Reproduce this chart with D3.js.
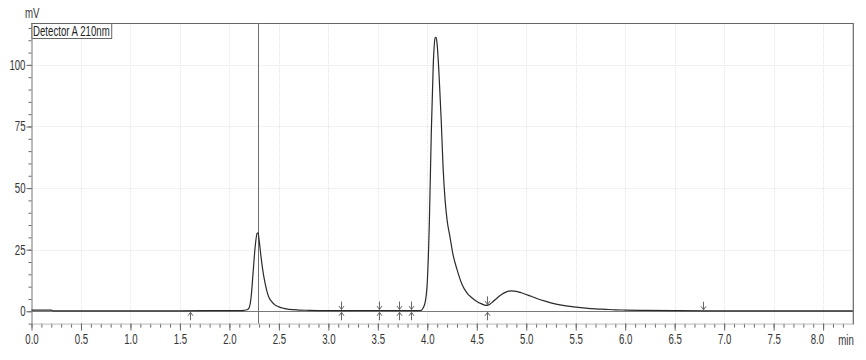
<!DOCTYPE html>
<html><head><meta charset="utf-8">
<script src="https://cdn.jsdelivr.net/npm/d3@7"></script>
<style>
html,body{margin:0;padding:0;background:#fff;}
svg text{font-family:"Liberation Sans Narrow","Liberation Sans",Arial,sans-serif;}
</style></head>
<body><svg id="c" width="866" height="360"></svg>
<script>
// ---- data ----
const timeMin = [0.00,0.20,0.22,0.50,1.00,1.50,2.00,2.10,2.15,2.18,2.20,2.22,2.24,2.26,2.28,2.29,2.30,2.32,2.34,2.36,2.38,2.40,2.43,2.46,2.50,2.55,2.60,2.70,2.80,3.00,3.50,3.90,3.94,3.96,3.98,4.00,4.02,4.04,4.06,4.08,4.09,4.10,4.12,4.14,4.16,4.18,4.20,4.23,4.26,4.30,4.35,4.40,4.45,4.50,4.55,4.59,4.62,4.66,4.70,4.75,4.80,4.85,4.90,4.95,5.00,5.05,5.10,5.20,5.30,5.40,5.50,5.60,5.70,5.80,5.90,6.00,6.20,6.50,6.80,7.50,8.30];
const signalMV = [0.5,0.5,0.2,0.2,0.2,0.2,0.3,0.3,0.4,0.6,1.5,6,16,26,31.6,31.8,29,22,16,11.5,8,5.6,3.8,2.6,1.8,1.2,0.8,0.5,0.4,0.3,0.3,0.3,0.4,1.5,4,12,35,72,100,111,111.2,108,95,78,58,45,37,30,23,17,11,7.5,5.5,4,3,2.4,2.6,3.8,5.2,6.8,7.9,8.3,8.1,7.5,6.8,6.1,5.3,4.0,2.9,2.2,1.7,1.3,1.0,0.8,0.6,0.5,0.35,0.25,0.2,0.2,0.2];
const upArrowTimes = [1.60,3.13,3.51,3.71,3.84,4.60];
const downArrowTimes = [3.13,3.51,3.71,3.84,4.60,6.79];
const downArrowLevels = [0.3,0.3,0.3,0.3,2.4,0.2];
const cursorTime = 2.285;
const xMajorTicks = [0,0.5,1,1.5,2,2.5,3,3.5,4,4.5,5,5.5,6,6.5,7,7.5,8];
const xTickLabels = ["0.0","0.5","1.0","1.5","2.0","2.5","3.0","3.5","4.0","4.5","5.0","5.5","6.0","6.5","7.0","7.5","8.0"];
const yMajorTicks = [0,25,50,75,100];
const yTickLabels = ["0","25","50","75","100"];
const legendText = "Detector A 210nm";
const yUnit = "mV", xUnit = "min";

// ---- drawing ----
const FS = 14, SX = 0.69;   // tall, condensed lettering
const svg = d3.select("#c");
const x = d3.scaleLinear().domain([0, 8.3]).range([31.5, 852.8]);
const y = d3.scaleLinear().domain([-5, 117]).range([323.6, 23]);
const L = x.range()[0], R = x.range()[1], T = y.range()[1], B = y.range()[0];

// grid (faint dotted)
const grid = svg.append("g").attr("stroke", "#e4e4e4").attr("stroke-width", 1).attr("stroke-dasharray", "1,1");
grid.selectAll("line.v").data(xMajorTicks.filter(d => d > 0)).join("line")
  .attr("x1", d => Math.round(x(d)) + 0.5).attr("x2", d => Math.round(x(d)) + 0.5).attr("y1", T).attr("y2", B);
grid.selectAll("line.h").data(yMajorTicks.filter(d => d > 0)).join("line")
  .attr("x1", L).attr("x2", R).attr("y1", d => Math.round(y(d)) + 0.5).attr("y2", d => Math.round(y(d)) + 0.5);

// zero line
svg.append("line").attr("x1", L).attr("x2", R)
  .attr("y1", Math.round(y(0)) + 0.5).attr("y2", Math.round(y(0)) + 0.5)
  .attr("stroke", "#7a7a7a").attr("stroke-width", 1);

// minor ticks
const minorX = d3.range(0, 83).map(i => i / 10);
const minorY = d3.range(-5, 116, 5);
svg.append("g").attr("transform", `translate(0,${B})`)
  .call(d3.axisBottom(x).tickValues(minorX).tickSize(4).tickFormat(""))
  .call(g => g.select(".domain").remove())
  .call(g => g.selectAll("line").attr("stroke", "#666"));
svg.append("g").attr("transform", `translate(${L},0)`)
  .call(d3.axisLeft(y).tickValues(minorY).tickSize(3).tickFormat(""))
  .call(g => g.select(".domain").remove())
  .call(g => g.selectAll("line").attr("stroke", "#666"));

// major x axis
const xAxis = svg.append("g").attr("transform", `translate(0,${B})`)
  .call(d3.axisBottom(x).tickValues(xMajorTicks).tickSize(7).tickPadding(3)
    .tickFormat((d, i) => xTickLabels[i]));
xAxis.select(".domain").attr("stroke", "#bbb").attr("d", `M${L},0.5H${R}`);
xAxis.selectAll("line").attr("stroke", "#666");
xAxis.selectAll("text").attr("font-size", FS).attr("fill", "#333")
  .attr("transform", `scale(${SX},1)`);
xAxis.selectAll(".tick").filter((d, i) => i === xMajorTicks.length - 1).select("text").attr("dx", -9);

// major y axis
const yAxis = svg.append("g").attr("transform", `translate(${L},0)`)
  .call(d3.axisLeft(y).tickValues(yMajorTicks).tickSize(5).tickPadding(2)
    .tickFormat((d, i) => yTickLabels[i]));
yAxis.select(".domain").attr("stroke", "#777").attr("d", `M0.5,${B}V${T}`);
yAxis.selectAll("line").attr("stroke", "#666");
yAxis.selectAll("text").attr("font-size", FS).attr("fill", "#333")
  .attr("x", -6 / SX).attr("transform", `scale(${SX},1)`);

// frame top & right
svg.append("path").attr("d", `M${L},${T + 0.5}H${R + 0.5}V${B + 1}`)
  .attr("fill", "none").attr("stroke", "#666").attr("stroke-width", 1.2);

// units
svg.append("text").attr("transform", `translate(25,18) scale(${SX},1)`)
  .attr("font-size", FS).attr("fill", "#333").text(yUnit);
svg.append("text").attr("transform", `translate(${R + 1},${B + 21}) scale(${SX},1)`).attr("text-anchor", "end")
  .attr("font-size", FS).attr("fill", "#333").text(xUnit);

// cursor line
svg.append("line").attr("x1", Math.round(x(cursorTime)) + 0.5).attr("x2", Math.round(x(cursorTime)) + 0.5)
  .attr("y1", T).attr("y2", B).attr("stroke", "#6e6e6e").attr("stroke-width", 1);

// chromatogram
const pts = timeMin.map((t, i) => [t, signalMV[i]]);
svg.append("path").datum(pts)
  .attr("d", d3.line().x(d => x(d[0])).y(d => y(d[1])).curve(d3.curveMonotoneX))
  .attr("fill", "none").attr("stroke", "#2a2a2a").attr("stroke-width", 1.2);

// peak markers
const ar = svg.append("g").attr("stroke", "#666").attr("stroke-width", 1).attr("fill", "none");
upArrowTimes.forEach(t => {
  const cx = Math.round(x(t)) + 0.5, hy = y(0) + 1;
  ar.append("path").attr("d", `M${cx},${hy + 8}V${hy}M${cx - 2.5},${hy + 3.5}L${cx},${hy}L${cx + 2.5},${hy + 3.5}`);
});
downArrowTimes.forEach((t, i) => {
  const cx = Math.round(x(t)) + 0.5, hy = y(downArrowLevels[i]) - 1;
  ar.append("path").attr("d", `M${cx},${hy - 8}V${hy}M${cx - 2.5},${hy - 3.5}L${cx},${hy}L${cx + 2.5},${hy - 3.5}`);
});

// legend box
const lg = svg.append("g");
const lt = lg.append("text").attr("transform", `translate(${L + 1.5},${T + 13}) scale(${SX},1)`)
  .attr("font-size", FS).attr("fill", "#222").text(legendText);
const w = lt.node().getBBox().width * SX;
lg.insert("rect", "text").attr("x", L + 0.5).attr("y", T + 0.5).attr("width", w + 3).attr("height", 15)
  .attr("fill", "#fff").attr("stroke", "#666").attr("stroke-width", 1);
</script></body></html>
